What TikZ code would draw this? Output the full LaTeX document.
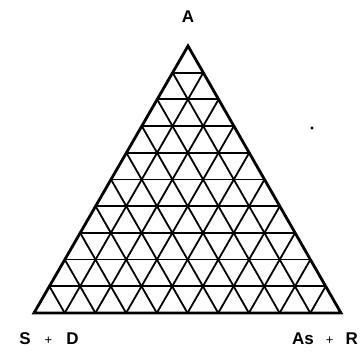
\documentclass[tikz,border=0pt]{standalone}
\usepackage{fontspec}
\setmainfont{Liberation Sans}
\usetikzlibrary{calc}
\tikzset{
  lbl/.style={font=\fontsize{17}{17}\selectfont\bfseries, inner sep=0pt},
  grid/.style={line width=1.8pt, line join=round},
  frame/.style={line width=2.8pt, line join=miter},
}
\begin{document}
\begin{tikzpicture}[x=1pt,y=1pt]
\useasboundingbox (0,0) rectangle (363,352);
\coordinate (A) at (188,306);
\coordinate (L) at (34,39);
\coordinate (R) at (341,39);
\foreach \i in {1,...,9}{
  \draw[grid] ($(L)!\i/10!(A)$) -- ($(R)!\i/10!(A)$);
  \draw[grid] ($(L)!\i/10!(R)$) -- ($(A)!\i/10!(R)$);
  \draw[grid] ($(R)!\i/10!(L)$) -- ($(A)!\i/10!(L)$);
}
\draw[frame] (A) -- (L) -- (R) -- cycle;
\node[lbl] (la) at (188,335) {A};
\node[lbl] (ls) at (49,13) {S\hspace{14pt}{\mdseries\fontsize{13}{13}\selectfont +}\hspace{14pt}D};
\node[lbl] (lr) at (325,13) {As\hspace{12pt}{\mdseries\fontsize{13}{13}\selectfont +}\hspace{12pt}R};
\fill (312,224) circle (1.6pt);
\end{tikzpicture}
\end{document}
